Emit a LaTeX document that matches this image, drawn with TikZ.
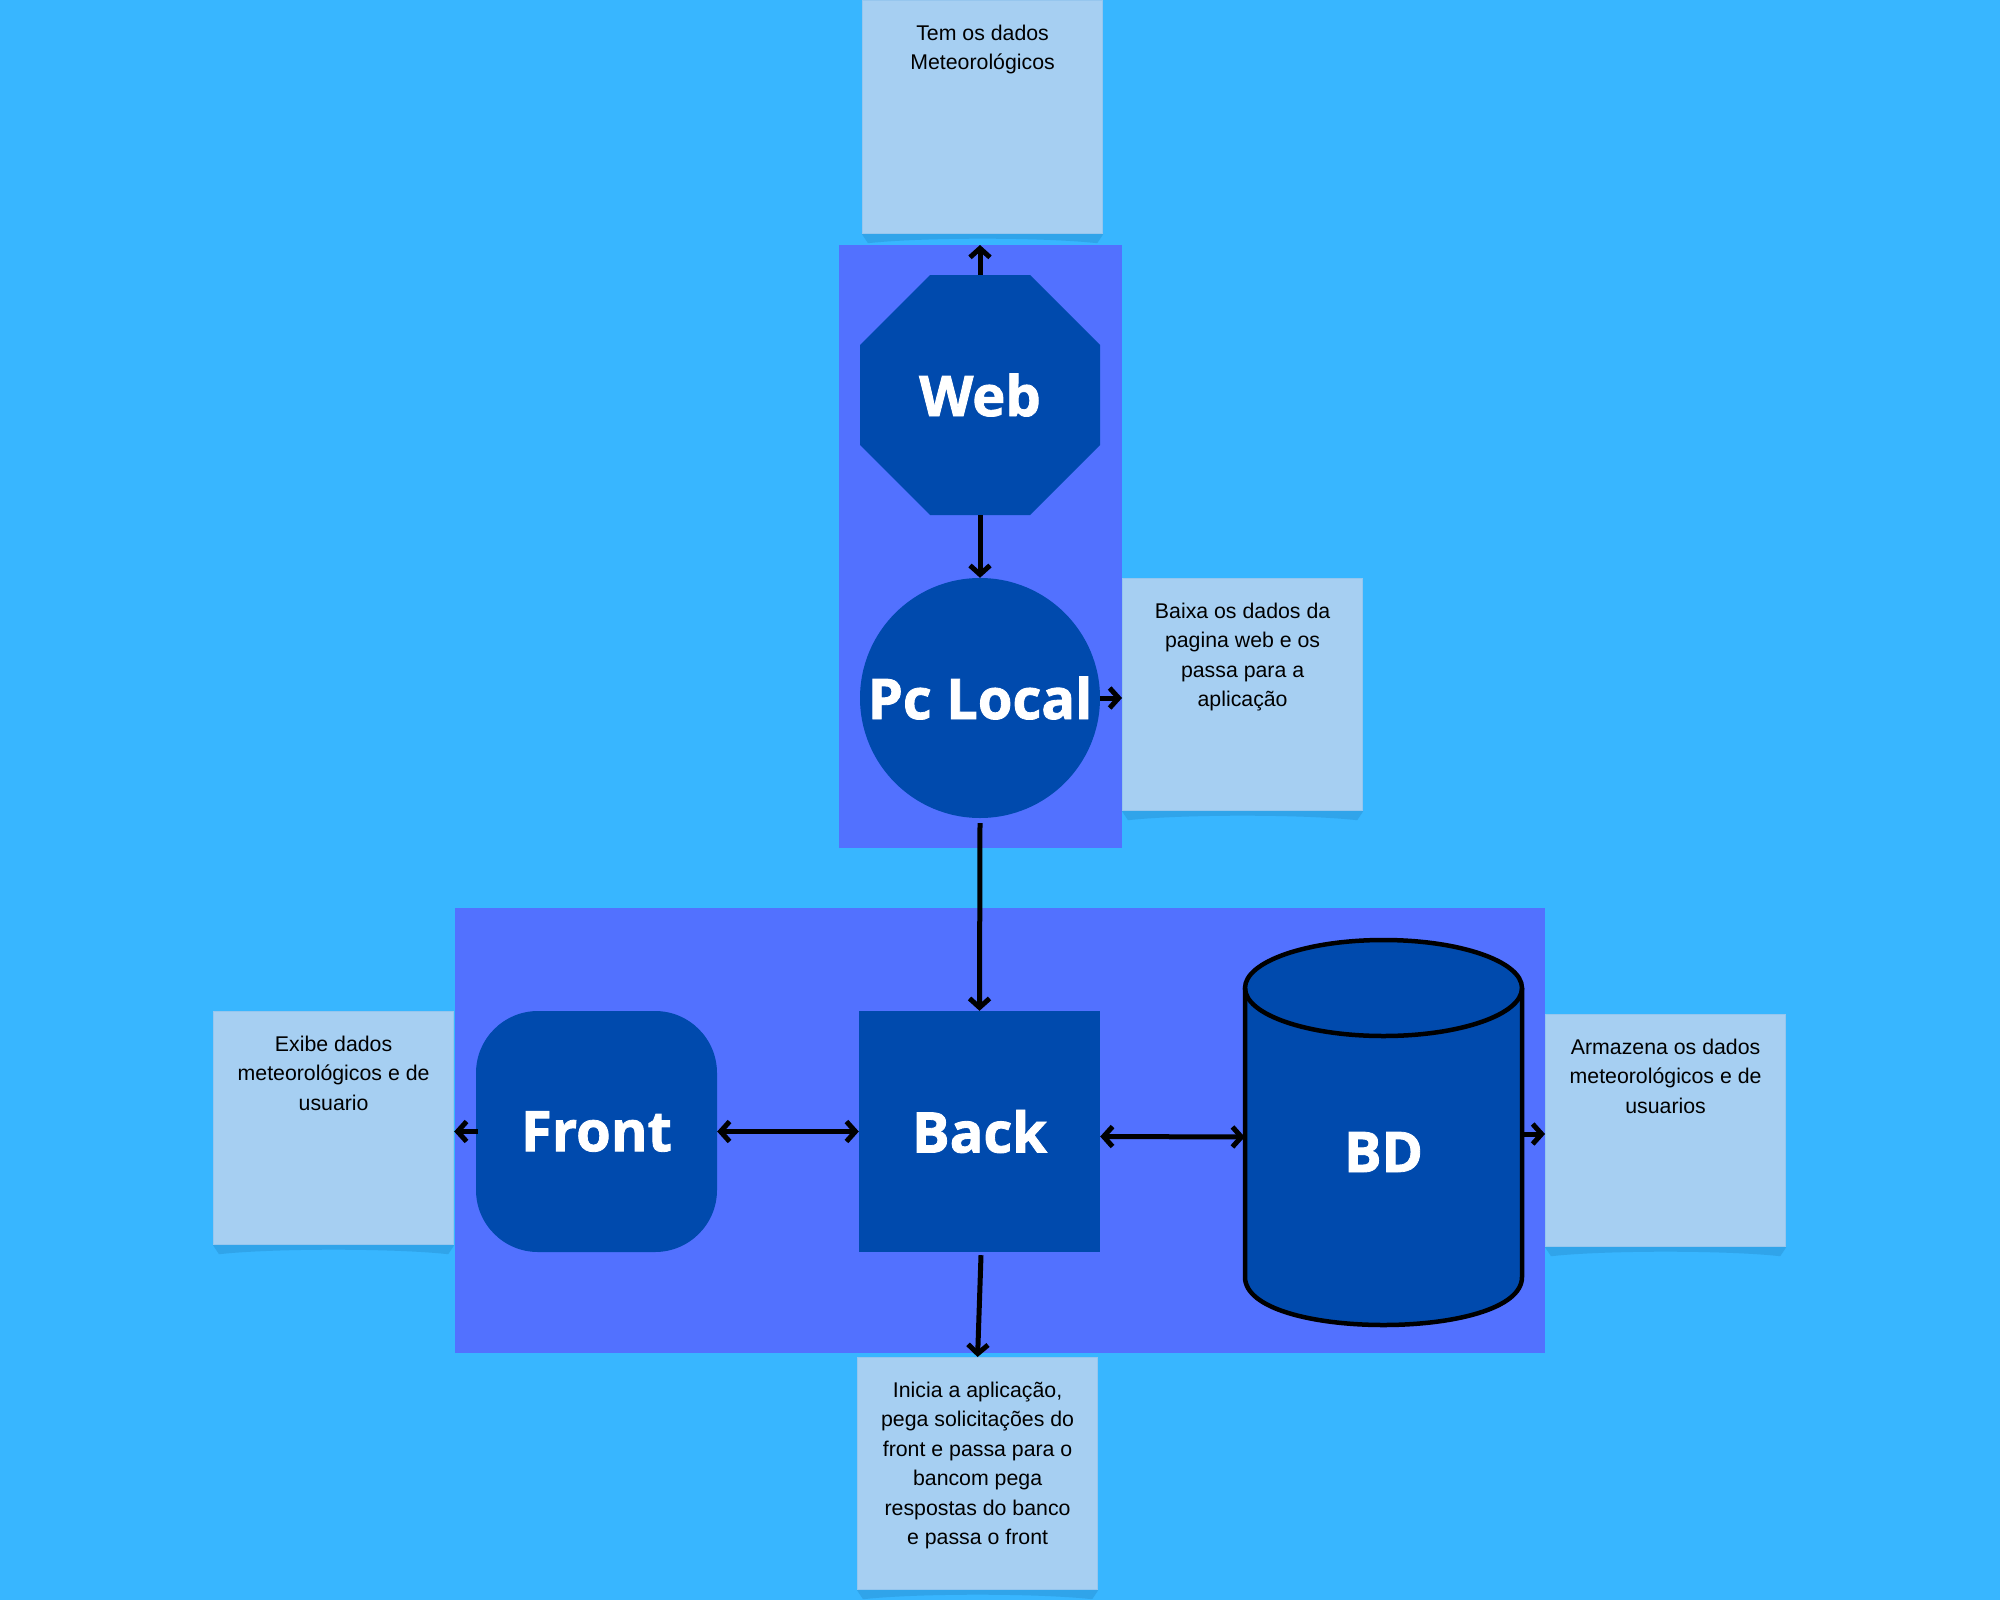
\documentclass[tikz,border=0pt]{standalone}
\usepackage{fontspec}
\setmainfont{Liberation Sans}
\newfontfamily\lblfont{Open Sans}[BoldFeatures={FakeBold=1.5}]
\usetikzlibrary{arrows.meta}
\definecolor{bgc}{HTML}{38B6FF}
\definecolor{contc}{HTML}{5271FF}
\definecolor{shapec}{HTML}{004AAD}
\definecolor{stickyc}{HTML}{A6CFF2}
\definecolor{stickyb}{HTML}{96C6EE}
\definecolor{shadowc}{HTML}{30A4EA}
\newcommand\stk[2]{\parbox[c][#1][t]{240pt}{\centering\vspace*{24pt}#2\par}}
\newcommand\stkshadow[1]{\fill[shadowc] (#1.south west) -- (#1.south east) -- ([shift={(-6,9)}]#1.south east) .. controls ([shift={(60,3)}]#1.south) and ([shift={(-60,3)}]#1.south) .. ([shift={(6,9)}]#1.south west) -- cycle;}
\tikzset{
  stickynote/.style={fill=stickyc, draw=stickyb, line width=1.2pt, inner sep=0pt, anchor=north west, font=\fontsize{21.3}{29.5}\selectfont},
  container/.style={fill=contc, inner sep=0pt, anchor=north west},
  lbl/.style={text=white, font=\lblfont\bfseries\fontsize{56}{60}\selectfont},
  conn/.style={line width=5pt, -{Straight Barb[length=9pt,width=20pt]}},
  conn2/.style={line width=5pt, {Straight Barb[length=9pt,width=20pt]}-{Straight Barb[length=9pt,width=20pt]}},
}
\begin{document}
\begin{tikzpicture}[x=1pt,y=-1pt]
\useasboundingbox (0,0) rectangle (2000,1600);
\fill[bgc] (0,0) rectangle (2000,1600);

% containers
\node[container, minimum width=283, minimum height=603] (upc) at (839,245) {};
\node[container, minimum width=1090, minimum height=445] (loc) at (455,908) {};

% Web octagon
\fill[shapec] (930,275) -- (1030,275) -- (1100,345) -- (1100,445) -- (1030,515) -- (930,515) -- (860,445) -- (860,345) -- cycle;
\node[lbl, minimum size=240, inner sep=0pt] (web) at (980,395) {Web};

% Pc Local
\node[lbl, circle, fill=shapec, minimum size=240, inner sep=0pt] (pc) at (980,698) {Pc Local};

% Front / Back
\node[lbl, rectangle, rounded corners=62pt, fill=shapec, minimum size=241, inner sep=0pt] (front) at (596.5,1131.5) {Front};
\node[lbl, rectangle, fill=shapec, minimum size=241, inner sep=0pt] (back) at (979.5,1131.5) {Back};

% BD cylinder
\fill[shapec] (1245,988) rectangle (1522,1277);
\fill[shapec] (1383.5,1277) ellipse [x radius=138.5, y radius=48];
\draw[line width=4.5pt, fill=shapec] (1383.5,988) ellipse [x radius=138.5, y radius=48];
\draw[line width=4.5pt] (1245,988) -- (1245,1277) .. controls (1245,1341) and (1522,1341) .. (1522,1277) -- (1522,988);
\node[minimum width=277, minimum height=385, inner sep=0pt] (bd) at (1383.5,1132) {};
\node[lbl] (bdl) at (1383.5,1152) {BD};

% sticky notes
\node[stickynote] (s1) at (862,0) {\stk{233pt}{Tem os dados\\Meteorológicos}};
\node[stickynote] (s2) at (1122,578) {\stk{232pt}{Baixa os dados da\\pagina web e os\\passa para a\\aplicação}};
\node[stickynote] (s3) at (213,1011) {\stk{233pt}{Exibe dados\\meteorológicos e de\\usuario}};
\node[stickynote] (s4) at (1545,1014) {\stk{232pt}{Armazena os dados\\meteorológicos e de\\usuarios}};
\node[stickynote] (s5) at (857,1357) {\stk{232pt}{Inicia a aplicação,\\pega solicitações do\\front e passa para o\\bancom pega\\respostas do banco\\e passa o front}};
\stkshadow{s1}
\stkshadow{s2}
\stkshadow{s3}
\stkshadow{s4}
\stkshadow{s5}

% connectors
\coordinate (bdout) at ([yshift=-2pt]bd.east);
\draw[conn] (web.north) -- (web.north |- upc.north);
\draw[conn] (web.south) -- (pc.north);
\draw[conn] (pc.east) -- (s2.west |- pc.east);
\draw[conn] ([yshift=-5pt]pc.south) -- (back.north);
\draw[conn2] (front.east) -- (back.west);
\draw[conn2] ([yshift=-5pt]back.east) -- ([yshift=-5pt]bd.west);
\draw[conn] ([xshift=2pt]front.west) -- (s3.east |- front.west);
\draw[conn] (bdout) -- (s4.west |- bdout);
\draw[conn] ([xshift=1.5pt,yshift=-3pt]back.south) -- (s5.north);
\end{tikzpicture}
\end{document}
